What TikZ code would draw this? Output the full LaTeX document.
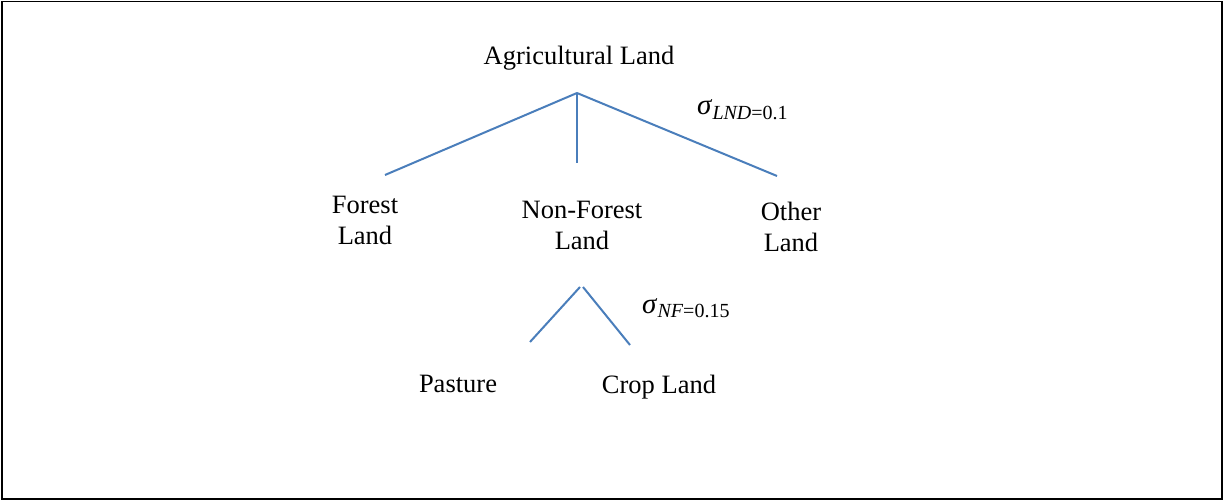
\documentclass[tikz,border=0pt]{standalone}
\usepackage{fontspec}
\setmainfont{Liberation Serif}
\newcommand{\elast}[2]{{\fontsize{29}{30}\selectfont\itshape σ}\kern1pt\raisebox{-5pt}{\fontsize{20}{22}\selectfont\textit{#1}=#2}}
\begin{document}
\begin{tikzpicture}[x=1pt,y=-1pt]
\definecolor{wordblue}{HTML}{4A7EBB}
\tikzset{
  lbl/.style={inner sep=0pt, align=center, font=\fontsize{26.5}{31}\selectfont},
  branch/.style={draw=wordblue, line width=2pt},
  sig/.style={inner sep=0pt}}
\useasboundingbox (0,0) rectangle (1225,502);
\draw[line width=1.5pt] (2,1.5) rectangle (1222,499);

% labels
\node[lbl] (agr) at (579,58) {Agricultural Land};
\node[lbl] (forest) at (365,220) {Forest\\Land};
\node[lbl] (nonf) at (582,225) {Non-Forest\\Land};
\node[lbl] (other) at (791,227) {Other\\Land};
\node[lbl] (past) at (458,384) {Pasture};
\node[lbl] (crop) at (659,387) {Crop Land};
\node[sig, anchor=base west] (s1) at (697,115) {\elast{LND}{0.1}};
\node[sig, anchor=base west] (s2) at (642,313) {\elast{NF}{0.15}};

% branch points
\coordinate (top) at (577,93);
\coordinate (fl) at (385,175);
\coordinate (nfl) at (577,163);
\coordinate (ol) at (777,176);
\coordinate (subl) at (580,287);
\coordinate (subr) at (583,287);
\coordinate (pl) at (530,342);
\coordinate (cl) at (630,345);

\draw[branch] (top) -- (fl);
\draw[branch] (top) -- (nfl);
\draw[branch] (top) -- (ol);
\draw[branch] (subl) -- (pl);
\draw[branch] (subr) -- (cl);
\end{tikzpicture}
\end{document}
